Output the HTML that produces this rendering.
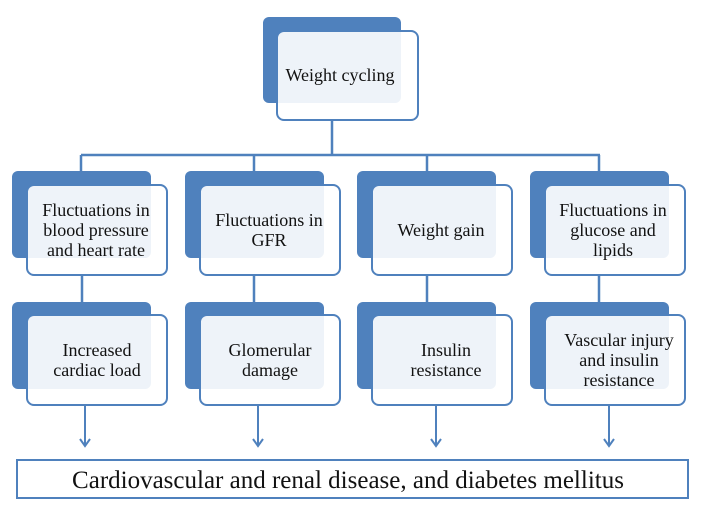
<!DOCTYPE html>
<html><head><meta charset="utf-8"><style>body{margin:0;background:#fff}svg{display:block}</style></head>
<body>
<svg width="707" height="515" viewBox="0 0 707 515" xmlns="http://www.w3.org/2000/svg" font-family="Liberation Serif, serif" font-size="18" fill="#111">
<g stroke="#4f81bd" stroke-width="2.5" fill="none">
<path d="M332 120 V155 M81 155 H600 M81 155 V172 M254 155 V172 M427 155 V172 M599 155 V172"/>
<path d="M82 275 V302 M254 275 V302 M427 275 V302 M599 275 V302"/>
</g>
<g stroke="#4f81bd" stroke-width="2" fill="none">
<path d="M85 405 V446 M80 439 L85 446 L90 439"/>
<path d="M258 405 V446 M253 439 L258 446 L263 439"/>
<path d="M436 405 V446 M431 439 L436 446 L441 439"/>
<path d="M609 405 V446 M604 439 L609 446 L614 439"/>
</g>
<rect x="263" y="17" width="138" height="86" rx="6" fill="#4f81bd"/>
<rect x="277" y="31" width="141" height="89" rx="7" fill="rgba(255,255,255,0.9)" stroke="#4f81bd" stroke-width="2"/>
<text x="340" y="81" text-anchor="middle">Weight cycling</text>
<g>
<rect x="12" y="171" width="139" height="87" rx="6" fill="#4f81bd"/>
<rect x="27" y="185" width="140" height="90" rx="7" fill="rgba(255,255,255,0.9)" stroke="#4f81bd" stroke-width="2"/>
<rect x="185" y="171" width="139" height="87" rx="6" fill="#4f81bd"/>
<rect x="200" y="185" width="140" height="90" rx="7" fill="rgba(255,255,255,0.9)" stroke="#4f81bd" stroke-width="2"/>
<rect x="357" y="171" width="139" height="87" rx="6" fill="#4f81bd"/>
<rect x="372" y="185" width="140" height="90" rx="7" fill="rgba(255,255,255,0.9)" stroke="#4f81bd" stroke-width="2"/>
<rect x="530" y="171" width="139" height="87" rx="6" fill="#4f81bd"/>
<rect x="545" y="185" width="140" height="90" rx="7" fill="rgba(255,255,255,0.9)" stroke="#4f81bd" stroke-width="2"/>
</g>
<g text-anchor="middle">
<text x="96" y="216">Fluctuations in</text><text x="96" y="236">blood pressure</text><text x="96" y="256">and heart rate</text>
<text x="269" y="226">Fluctuations in</text><text x="269" y="246">GFR</text>
<text x="441" y="236">Weight gain</text>
<text x="613" y="216">Fluctuations in</text><text x="613" y="236">glucose and</text><text x="613" y="256">lipids</text>
</g>
<g>
<rect x="12" y="302" width="139" height="87" rx="6" fill="#4f81bd"/>
<rect x="27" y="315" width="140" height="90" rx="7" fill="rgba(255,255,255,0.9)" stroke="#4f81bd" stroke-width="2"/>
<rect x="185" y="302" width="139" height="87" rx="6" fill="#4f81bd"/>
<rect x="200" y="315" width="140" height="90" rx="7" fill="rgba(255,255,255,0.9)" stroke="#4f81bd" stroke-width="2"/>
<rect x="357" y="302" width="139" height="87" rx="6" fill="#4f81bd"/>
<rect x="372" y="315" width="140" height="90" rx="7" fill="rgba(255,255,255,0.9)" stroke="#4f81bd" stroke-width="2"/>
<rect x="530" y="302" width="139" height="87" rx="6" fill="#4f81bd"/>
<rect x="545" y="315" width="140" height="90" rx="7" fill="rgba(255,255,255,0.9)" stroke="#4f81bd" stroke-width="2"/>
</g>
<g text-anchor="middle">
<text x="97" y="356">Increased</text><text x="97" y="376">cardiac load</text>
<text x="270" y="356">Glomerular</text><text x="270" y="376">damage</text>
<text x="446" y="356">Insulin</text><text x="446" y="376">resistance</text>
<text x="619" y="346">Vascular injury</text><text x="619" y="366">and insulin</text><text x="619" y="386">resistance</text>
</g>
<rect x="17" y="460" width="671" height="38" fill="#fff" stroke="#4f81bd" stroke-width="2"/>
<text x="348" y="488" text-anchor="middle" font-size="25">Cardiovascular and renal disease, and diabetes mellitus</text>
</svg>
</body></html>
